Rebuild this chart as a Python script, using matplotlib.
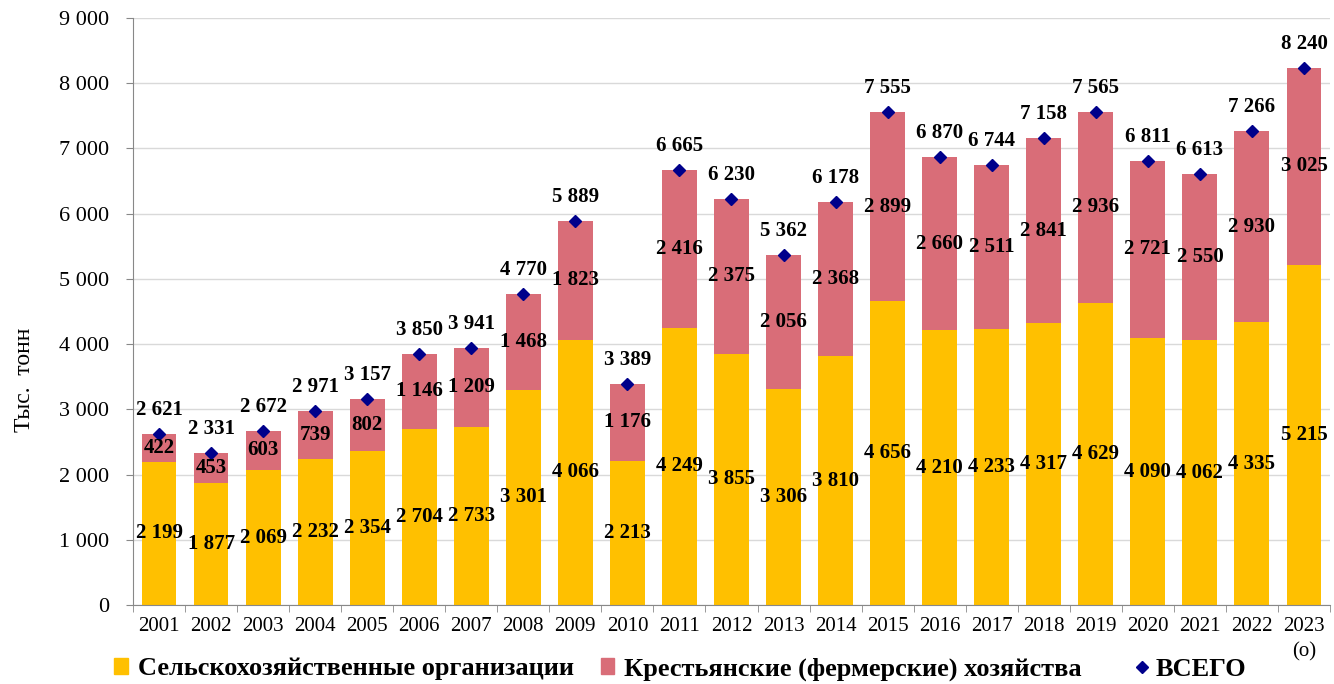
import numpy as np
import matplotlib.pyplot as plt
from matplotlib.lines import Line2D
from matplotlib.patches import Patch

years = ['2001', '2002', '2003', '2004', '2005', '2006', '2007', '2008', '2009', '2010',
         '2011', '2012', '2013', '2014', '2015', '2016', '2017', '2018', '2019', '2020',
         '2021', '2022', '2023\n(о)']
org = np.array([2199, 1877, 2069, 2232, 2354, 2704, 2733, 3301, 4066, 2213,
                4249, 3855, 3306, 3810, 4656, 4210, 4233, 4317, 4629, 4090,
                4062, 4335, 5215])
farm = np.array([422, 453, 603, 739, 802, 1146, 1209, 1468, 1823, 1176,
                 2416, 2375, 2056, 2368, 2899, 2660, 2511, 2841, 2936, 2721,
                 2550, 2930, 3025])
total = np.array([2621, 2331, 2672, 2971, 3157, 3850, 3941, 4770, 5889, 3389,
                  6665, 6230, 5362, 6178, 7555, 6870, 6744, 7158, 7565, 6811,
                  6613, 7266, 8240])

yellow = '#FFC000'
rose = '#D96D78'
navy = '#00008B'

plt.rcParams['font.family'] = ['Liberation Serif', 'DejaVu Serif']


def fmt(v):
    return '{:,}'.format(int(v)).replace(',', ' ')


fig = plt.figure(figsize=(13.34, 6.84), dpi=100)
ax = fig.add_axes([0.0997, 0.1155, 0.8973, 0.8582])

x = np.arange(len(years))
w = 0.67
ax.bar(x, org, w, color=yellow, zorder=2)
ax.bar(x, farm, w, bottom=org, color=rose, zorder=2)
ax.plot(x, total, linestyle='none', marker='D', markersize=6, color=navy, zorder=4)

for i in range(len(x)):
    ax.text(x[i], org[i] / 2, fmt(org[i]), ha='center', va='center',
            fontsize=15, fontweight='bold', zorder=5)
    ax.text(x[i], org[i] + farm[i] / 2, fmt(farm[i]), ha='center', va='center',
            fontsize=15, fontweight='bold', zorder=5)
    ax.annotate(fmt(total[i]), (x[i], total[i]), xytext=(0, 10), textcoords='offset points',
                ha='center', va='bottom', fontsize=15, fontweight='bold', zorder=5)

ax.set_xlim(-0.5, len(x) - 0.5)
ax.set_ylim(0, 9000)
ax.set_yticks(np.arange(0, 9001, 1000))
ax.set_yticklabels([fmt(v) for v in np.arange(0, 9001, 1000)], fontsize=16)
ax.set_xticks(x)
ax.set_xticklabels(years, fontsize=15, linespacing=1.4)
ax.set_xticks(np.arange(-0.5, len(x), 1), minor=True)
ax.tick_params(axis='x', which='major', length=0, pad=9)
ax.tick_params(axis='x', which='minor', length=5, color='#888888')
ax.tick_params(axis='y', length=5, color='#888888', pad=12)
ax.yaxis.grid(True, color='#D9D9D9', linewidth=1, zorder=0)
ax.set_axisbelow(True)
for s in ['top', 'right']:
    ax.spines[s].set_visible(False)
ax.spines['left'].set_color('#888888')
ax.spines['bottom'].set_color('#888888')
fig.text(25 / 1334, 1 - 380 / 684, 'Тыс.  тонн', rotation=90, ha='center', va='center',
         fontsize=17)

legend_props = {'size': 19, 'weight': 'bold'}
leg1 = fig.legend([Patch(color=yellow), Patch(color=rose)],
                  ['Сельскохозяйственные организации', 'Крестьянские (фермерские) хозяйства'],
                  loc='lower left', bbox_to_anchor=(0.068, -0.03), ncol=2,
                  frameon=False, prop=legend_props, handlelength=0.5,
                  handleheight=0.5, handletextpad=0.4, columnspacing=1.0)
fig.legend([Line2D([], [], linestyle='none', marker='D', markersize=6, color=navy)],
           ['ВСЕГО'], loc='lower left', bbox_to_anchor=(0.833, -0.03),
           frameon=False, prop=legend_props, handlelength=0.5,
           handleheight=0.5, handletextpad=0.3)

fig.savefig('out.png', dpi=100)
